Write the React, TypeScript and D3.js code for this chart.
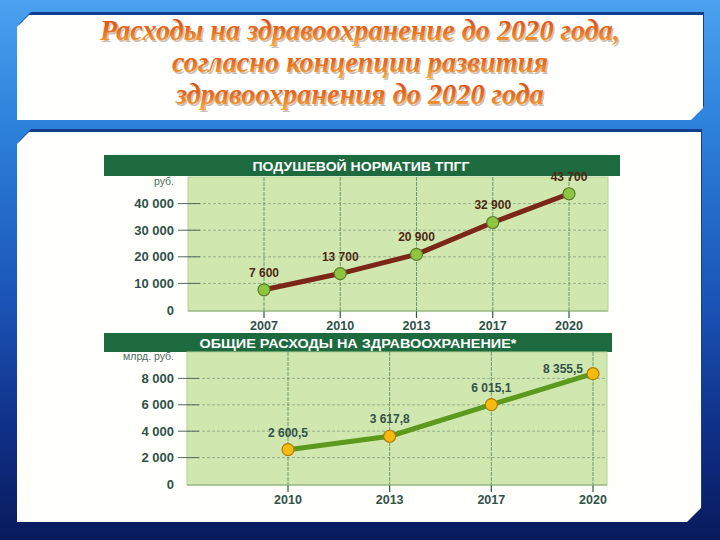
import React, { useEffect, useRef } from 'react';
import * as d3 from 'd3';

// подушевой норматив ТПГГ, руб.
const perCapitaYears = ['2007', '2010', '2013', '2017', '2020'];
const perCapitaValues = [7600, 13700, 20900, 32900, 43700];
const perCapitaTicks = [0, 10000, 20000, 30000, 40000];

// общие расходы на здравоохранение, млрд. руб.
const totalYears = ['2010', '2013', '2017', '2020'];
const totalValues = [2600.5, 3617.8, 6015.1, 8355.5];
const totalTicks = [0, 2000, 4000, 6000, 8000];

const titleLines = [
  'Расходы на здравоохранение до 2020 года,',
  'согласно концепции развития',
  'здравоохранения до 2020 года',
];

const ru = d3.formatLocale({ decimal: ',', thousands: ' ', grouping: [3], currency: ['', ' руб.'] });

const SANS = '"Liberation Sans", Arial, sans-serif';

function drawChart(root, cfg) {
  const g = root.append('g');
  const { plot, header } = cfg;

  g.append('rect')
    .attr('x', header.x0).attr('y', header.y0)
    .attr('width', header.x1 - header.x0).attr('height', header.y1 - header.y0)
    .attr('fill', '#1c6a3e');
  g.append('text')
    .text(header.title)
    .attr('x', header.cx).attr('y', (header.y0 + header.y1) / 2 + 5)
    .attr('text-anchor', 'middle')
    .attr('fill', 'white')
    .attr('font-family', SANS).attr('font-weight', 'bold').attr('font-size', 13)
    .attr('textLength', header.len).attr('lengthAdjust', 'spacingAndGlyphs');

  g.append('rect')
    .attr('x', plot.x0).attr('y', plot.y0)
    .attr('width', plot.x1 - plot.x0).attr('height', plot.y1 - plot.y0)
    .attr('fill', '#d0e8b0')
    .attr('stroke', '#b2d294');

  const x = d3.scalePoint().domain(cfg.years).range(cfg.xRange);
  const y = d3.scaleLinear().domain(cfg.yDomain).range([plot.y1 - 1, plot.y0]);

  // horizontal grid
  g.selectAll('line.hgrid')
    .data(cfg.ticks.filter(d => d > 0))
    .enter().append('line')
    .attr('x1', plot.x0).attr('x2', plot.x1)
    .attr('y1', d => y(d)).attr('y2', d => y(d))
    .attr('stroke', '#6d8a6e').attr('stroke-opacity', 0.6)
    .attr('stroke-dasharray', '3,2');

  // tick marks on the left
  g.selectAll('line.ytick')
    .data(cfg.ticks.filter(d => d > 0))
    .enter().append('line')
    .attr('x1', 178).attr('x2', plot.x0 + 12)
    .attr('y1', d => y(d)).attr('y2', d => y(d))
    .attr('stroke', '#55685c').attr('stroke-width', 1);

  g.selectAll('text.ylab')
    .data(cfg.ticks)
    .enter().append('text')
    .text(d => ru.format(',d')(d))
    .attr('x', 174).attr('y', d => y(d) + 4.5)
    .attr('text-anchor', 'end')
    .attr('fill', '#31514a')
    .attr('font-family', SANS).attr('font-weight', 'bold').attr('font-size', 13);

  g.append('text')
    .text(cfg.unit)
    .attr('x', 174).attr('y', plot.y0 + 8)
    .attr('text-anchor', 'end')
    .attr('fill', '#4d6a62')
    .attr('font-family', SANS).attr('font-size', 10.5);

  // vertical grid + ticks below
  g.selectAll('line.vgrid')
    .data(cfg.years)
    .enter().append('line')
    .attr('x1', d => x(d)).attr('x2', d => x(d))
    .attr('y1', plot.y0).attr('y2', plot.y1)
    .attr('stroke', '#4f7d58').attr('stroke-opacity', 0.75).attr('stroke-width', 1)
    .attr('stroke-dasharray', '4,1');
  g.selectAll('line.xtick')
    .data(cfg.years)
    .enter().append('line')
    .attr('x1', d => x(d)).attr('x2', d => x(d))
    .attr('y1', plot.y1).attr('y2', plot.y1 + 7)
    .attr('stroke', '#2f5a3c').attr('stroke-width', 1.2);

  g.append('line')
    .attr('x1', plot.x0).attr('x2', plot.x1)
    .attr('y1', plot.y1).attr('y2', plot.y1)
    .attr('stroke', '#8ba87c');

  g.selectAll('text.xlab')
    .data(cfg.years)
    .enter().append('text')
    .text(d => d)
    .attr('x', d => x(d)).attr('y', plot.y1 + 19)
    .attr('text-anchor', 'middle')
    .attr('fill', '#31514a')
    .attr('font-family', SANS).attr('font-weight', 'bold').attr('font-size', 12.5);

  const line = d3.line()
    .x((d, i) => x(cfg.years[i]))
    .y(d => y(d));

  g.append('path')
    .datum(cfg.values)
    .attr('d', line)
    .attr('fill', 'none')
    .attr('stroke', cfg.lineColor)
    .attr('stroke-width', 5)
    .attr('stroke-linejoin', 'round');

  g.selectAll('circle.pt')
    .data(cfg.values)
    .enter().append('circle')
    .attr('cx', (d, i) => x(cfg.years[i]))
    .attr('cy', d => y(d))
    .attr('r', 6)
    .attr('fill', cfg.pointFill)
    .attr('stroke', cfg.pointStroke)
    .attr('stroke-width', 1.2);

  const n = cfg.values.length;
  g.selectAll('text.vlab')
    .data(cfg.values)
    .enter().append('text')
    .text(d => cfg.fmt(d))
    .attr('x', (d, i) => (i === n - 1 && cfg.lastLeft ? x(cfg.years[i]) - 10 : x(cfg.years[i])))
    .attr('y', (d, i) => (i === n - 1 && cfg.lastLeft ? y(d) - 1 : y(d) - 13))
    .attr('text-anchor', (d, i) => (i === n - 1 && cfg.lastLeft ? 'end' : 'middle'))
    .attr('fill', cfg.labelColor)
    .attr('font-family', SANS).attr('font-weight', 'bold').attr('font-size', 12);
}

export default function App() {
  const ref = useRef(null);

  useEffect(() => {
    const svg = d3.select(ref.current);
    svg.selectAll('*').remove();

    const defs = svg.append('defs');
    const bg = defs.append('linearGradient').attr('id', 'bg')
      .attr('x1', 0).attr('y1', 0).attr('x2', 0).attr('y2', 1);
    [['0%', '#4aa2f0'], ['22%', '#2e83dc'], ['55%', '#1a55b8'], ['80%', '#0f2f86'], ['100%', '#081a5c']]
      .forEach(([o, c]) => bg.append('stop').attr('offset', o).attr('stop-color', c));

    const tg = defs.append('linearGradient').attr('id', 'titleGrad')
      .attr('x1', 0).attr('y1', 0).attr('x2', 0).attr('y2', 1);
    [['0%', '#d5400e'], ['55%', '#e8701e'], ['100%', '#f6ae45']]
      .forEach(([o, c]) => tg.append('stop').attr('offset', o).attr('stop-color', c));

    svg.append('rect').attr('width', 720).attr('height', 540).attr('fill', 'url(#bg)');

    const panel = (x0, y0, x1, y1, c1, c2) =>
      `M${x0 + c1},${y0} L${x1},${y0} L${x1},${y1 - c2} L${x1 - c2},${y1} L${x0},${y1} L${x0},${y0 + c1} Z`;

    // panel shadows
    svg.append('path').attr('d', panel(19, 12, 704, 118, 12, 12)).attr('fill', '#123f8c');
    svg.append('path').attr('d', panel(19, 129, 702, 520, 12, 14)).attr('fill', '#123f8c');
    svg.append('path').attr('d', panel(17, 15, 703, 120, 12, 12)).attr('fill', '#fffffd');
    svg.append('path').attr('d', panel(17, 132, 701, 522, 12, 14)).attr('fill', '#fffffb');

    const title = svg.append('g');
    const lens = [520, 376, 368];
    const bases = [40, 72, 104];
    titleLines.forEach((t, i) => {
      title.append('text')
        .text(t)
        .attr('x', 361.5).attr('y', bases[i] + 1.5)
        .attr('text-anchor', 'middle')
        .attr('fill', '#7a4a2a').attr('fill-opacity', 0.35)
        .attr('font-family', '"Liberation Serif", "Times New Roman", serif')
        .attr('font-style', 'italic').attr('font-weight', 'bold').attr('font-size', 29)
        .attr('textLength', lens[i]).attr('lengthAdjust', 'spacingAndGlyphs');
      title.append('text')
        .text(t)
        .attr('x', 360).attr('y', bases[i])
        .attr('text-anchor', 'middle')
        .attr('fill', 'url(#titleGrad)')
        .attr('font-family', '"Liberation Serif", "Times New Roman", serif')
        .attr('font-style', 'italic').attr('font-weight', 'bold').attr('font-size', 29)
        .attr('textLength', lens[i]).attr('lengthAdjust', 'spacingAndGlyphs');
    });

    drawChart(svg, {
      header: { x0: 104, x1: 620, y0: 155, y1: 176, cx: 361, len: 217, title: 'ПОДУШЕВОЙ НОРМАТИВ ТПГГ' },
      plot: { x0: 188, x1: 608, y0: 177, y1: 311 },
      years: perCapitaYears,
      values: perCapitaValues,
      ticks: perCapitaTicks,
      yDomain: [0, 50000],
      xRange: [264, 569],
      unit: 'руб.',
      lineColor: '#7c2618',
      pointFill: '#8fc641',
      pointStroke: '#5b7d2a',
      labelColor: '#4e2812',
      fmt: ru.format(',d'),
      lastLeft: false,
    });

    drawChart(svg, {
      header: { x0: 104, x1: 612, y0: 333, y1: 352, cx: 358, len: 317, title: 'ОБЩИЕ РАСХОДЫ НА ЗДРАВООХРАНЕНИЕ*' },
      plot: { x0: 187, x1: 607, y0: 352, y1: 485 },
      years: totalYears,
      values: totalValues,
      ticks: totalTicks,
      yDomain: [0, 10000],
      xRange: [288, 593],
      unit: 'млрд. руб.',
      lineColor: '#5b9a1c',
      pointFill: '#f6bb10',
      pointStroke: '#b27a06',
      labelColor: '#31514a',
      fmt: ru.format(',.1f'),
      lastLeft: true,
    });
  }, []);

  return (
    <svg
      ref={ref}
      width={720}
      height={540}
      style={{ position: 'absolute', left: 0, top: 0, display: 'block' }}
    />
  );
}
